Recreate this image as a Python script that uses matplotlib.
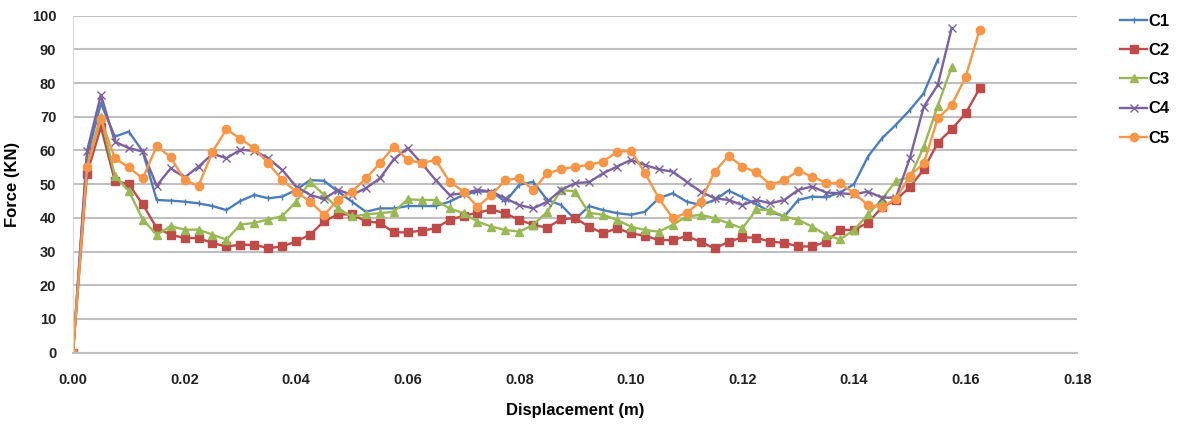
import matplotlib
matplotlib.use("Agg")
import matplotlib.pyplot as plt

plt.rcParams["font.family"] = ["Liberation Sans", "DejaVu Sans"]

# displacement samples (m)
disp = [0.0, 0.0025, 0.005, 0.0075, 0.01, 0.0125, 0.015, 0.0175, 0.02, 0.0225,
        0.025, 0.0275, 0.03, 0.0325, 0.035, 0.0375, 0.04, 0.0425, 0.045, 0.0475,
        0.05, 0.0525, 0.055, 0.0575, 0.06, 0.0625, 0.065, 0.0675, 0.07, 0.0725,
        0.075, 0.0775, 0.08, 0.0825, 0.085, 0.0875, 0.09, 0.0925, 0.095, 0.0975,
        0.1, 0.1025, 0.105, 0.1075, 0.11, 0.1125, 0.115, 0.1175, 0.12, 0.1225,
        0.125, 0.1275, 0.13, 0.1325, 0.135, 0.1375, 0.14, 0.1425, 0.145, 0.1475,
        0.15, 0.1525, 0.155, 0.1575, 0.16, 0.1625]

# force (kN)
c1 = [0, 58, 74, 64.1, 65.6, 59.7, 45.3, 45.1, 44.8, 44.3,
      43.5, 42.3, 45, 46.8, 45.8, 46.3, 48.3, 51.2, 51, 47.8,
      44.8, 41.8, 42.8, 42.8, 43.5, 43.5, 43.5, 44.8, 46.8, 47.8,
      47.8, 44.8, 49.8, 50.7, 45.3, 43.8, 39.5, 43.5, 42.3, 41.4,
      40.9, 41.8, 45.8, 47.3, 44.8, 43.8, 45.3, 48.1, 46.1, 44,
      41.8, 40.4, 45.3, 46.3, 46.1, 47.5, 50, 58.2, 63.6, 67.6,
      72, 77, 86.9]
c2 = [0, 53, 67, 51, 50, 44, 37, 35, 34, 34,
      32.5, 31.5, 32, 32, 31, 31.5, 33, 35, 39, 41,
      41, 39, 38.5, 35.7, 35.7, 36.2, 36.9, 39.4, 40.6, 41.5,
      42.5, 41.3, 39.4, 37.9, 37.1, 39.6, 39.9, 37.4, 35.4, 36.9,
      35.4, 34.7, 33.4, 33.4, 34.6, 32.9, 30.9, 32.9, 34.2, 34.1,
      32.9, 32.6, 31.5, 31.5, 32.9, 36.4, 36.4, 38.6, 43.1, 45.3,
      49.1, 54.4, 62.3, 66.3, 71.0, 78.4]
c3 = [0, 56.5, 70, 52.5, 48, 39.5, 35, 37.5, 36.5, 36.5,
      35, 33.5, 38, 38.5, 39.5, 40.5, 44.8, 50.7, 46.8, 42.8,
      40.4, 41, 41.4, 41.8, 45.5, 45.3, 45.3, 42.8, 41.4, 38.9,
      37.4, 36.4, 35.9, 37.9, 41.8, 48.3, 47.8, 41.5, 40.9, 39.4,
      37.4, 36.4, 35.9, 37.9, 40.4, 40.9, 39.9, 38.4, 36.9, 42.5,
      42.3, 40.4, 39.4, 37.4, 34.9, 33.6, 36.4, 41, 45.5, 51,
      52, 61.1, 73.2, 84.8]
c4 = [0, 59.7, 76.5, 62.6, 60.7, 59.7, 49.5, 54.7, 52, 55.2,
      59, 57.7, 60.2, 59.9, 57.7, 54.2, 49.3, 46.8, 45.6, 48.3,
      46.8, 48.8, 51.7, 57.4, 60.7, 56.2, 51.2, 46.8, 47.3, 48.3,
      47.8, 45.8, 43.8, 42.8, 44.8, 48.3, 50.3, 50.6, 53.2, 55.2,
      57.2, 55.7, 54.4, 53.7, 50.7, 47.8, 45.8, 45.3, 43.8, 45.3,
      44.3, 45.3, 48.3, 49.3, 47.5, 47.3, 47, 47.8, 46, 46,
      57.7, 73, 79.4, 96.3]
c5 = [0, 55, 69.3, 57.7, 55, 51.7, 61.3, 58, 51.2, 49.5,
      59.6, 66.3, 63.5, 60.6, 56.2, 51.2, 47.8, 44.8, 40.9, 45.3,
      47.8, 51.7, 56.2, 61.1, 57.2, 56.2, 57.2, 50.7, 47.8, 43.3,
      46.8, 51.2, 51.7, 48.3, 53.2, 54.4, 55.2, 55.7, 56.7, 59.6,
      59.9, 53.4, 45.8, 39.9, 41.5, 44.8, 53.7, 58.4, 55.2, 53.5,
      49.8, 51.2, 54, 52.2, 50.4, 50.3, 47.3, 43.8, 43.2, 45.7,
      52.5, 56.2, 69.5, 73.5, 81.8, 95.8]

names = ["C1", "C2", "C3", "C4", "C5"]
series = [c1, c2, c3, c4, c5]
colors = ["#4A7EBB", "#BE4B48", "#98B954", "#7D60A0", "#F79646"]
markers = ["|", "s", "^", "x", "o"]
msizes = [5, 6, 6, 5.5, 6]

fig = plt.figure(figsize=(11.87, 4.30), dpi=100)
ax = fig.add_axes([0.0615, 0.18, 0.846, 0.7835])

for name, ys, col, mk, ms in zip(names, series, colors, markers, msizes):
    ax.plot(disp[:len(ys)], ys, color=col, lw=1.7, marker=mk, ms=ms,
            markeredgewidth=1.0, label=name)

ax.set_xlim(0, 0.18)
ax.set_ylim(0, 100)
ax.set_xticks([i * 0.02 for i in range(10)])
ax.set_xticklabels(["%.2f" % (i * 0.02) for i in range(10)])
ax.set_yticks(range(0, 101, 10))
ax.grid(axis="y", color="#BFBFBF", lw=1.5)
ax.set_axisbelow(True)
for s in ["top", "right"]:
    ax.spines[s].set_visible(False)
ax.spines["left"].set_color("#D9D9D9")
ax.spines["bottom"].set_color("#BFBFBF")
ax.spines["bottom"].set_linewidth(1.5)
ax.tick_params(axis="x", length=0, labelsize=10.5, colors="#222222", pad=15)
ax.tick_params(axis="y", length=0, labelsize=10.5, colors="#222222", pad=12)
for lab in ax.get_xticklabels() + ax.get_yticklabels():
    lab.set_fontweight("bold")

ax.set_xlabel("Displacement (m)", fontsize=12, fontweight="bold", labelpad=11)
ax.set_ylabel("Force (KN)", fontsize=12, fontweight="bold")
ax.yaxis.set_label_coords(-0.053, 0.5)

leg = ax.legend(loc="upper left", bbox_to_anchor=(1.028, 1.05), frameon=False,
                handlelength=1.6, handletextpad=0.1, labelspacing=0.85,
                prop={"weight": "bold", "size": 12})

fig.savefig("out.png", dpi=100)
